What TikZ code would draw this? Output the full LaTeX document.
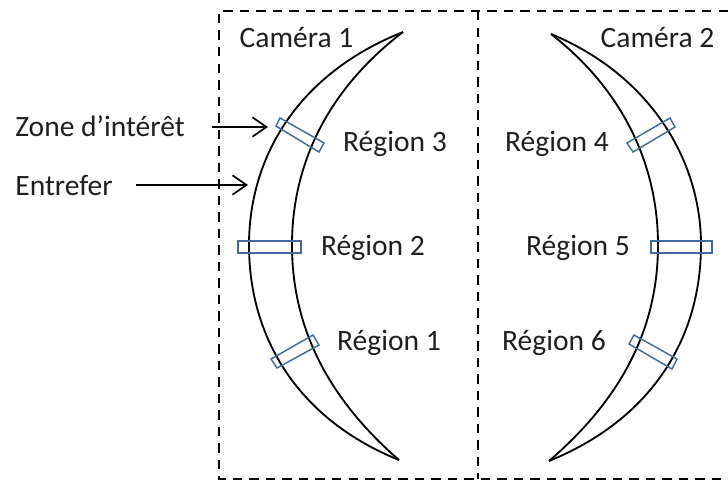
\documentclass[tikz,border=0pt]{standalone}
\usepackage{fontspec}
\setmainfont{Carlito}
\usetikzlibrary{arrows.meta}
\definecolor{regionblue}{RGB}{65,108,160}
\tikzset{
    label text/.style={font=\fontsize{16.8}{18}\selectfont,text=black!88,inner sep=0pt,anchor=base},
    region box/.style={draw=regionblue,line width=0.85pt},
    frame line/.style={line width=1pt,dash pattern=on 5.4pt off 4pt},
    gap line/.style={line width=1.05pt},
    pointer/.style={line width=0.95pt,-{Straight Barb[length=8pt,width=11pt]}}
}

\begin{document}
\begin{tikzpicture}[x=0.02cm,y=-0.02cm]
        \useasboundingbox (0,0) rectangle (728,481);

        % Frames
        \draw [frame line] (728,11) -- (219,11) -- (219,479) -- (728,479);
        \draw [frame line] (478,11) -- (478,479);

        % Air gap, left
        \draw [gap line] (403,32) .. controls (295,75) and (249,160) .. (249,245)
            .. controls (249,340) and (300,420) .. (399,460);
        \draw [gap line] (403,32) .. controls (327,90) and (292,165) .. (292,245)
            .. controls (292,330) and (330,400) .. (399,460);

        % Air gap, right
        \draw [gap line] (551,34) .. controls (650,75) and (701,160) .. (701,245)
            .. controls (701,340) and (650,420) .. (549,461);
        \draw [gap line] (551,34) .. controls (623,90) and (658,165) .. (658,245)
            .. controls (658,330) and (620,400) .. (549,461);

        % Regions
        \draw [region box] (238,241) rectangle (301,253);
        \draw [region box] (651,241) rectangle (712,253);
        \draw [region box] (280,118) -- (276,126) -- (319,152) -- (324,143) -- cycle;
        \draw [region box] (313,335) -- (319,345) -- (277,368) -- (271,359) -- cycle;
        \draw [region box] (670,118) -- (675,127) -- (633,152) -- (627,143) -- cycle;
        \draw [region box] (634,335) -- (629,344) -- (672,369) -- (677,359) -- cycle;

        % Labels
        \node [label text] (cam1) at (296.5,47) {Caméra 1};
        \node [label text] (cam2) at (657.5,47) {Caméra 2};
        \node [label text] (reg3) at (395,151) {Région 3};
        \node [label text] (reg2) at (373,255) {Région 2};
        \node [label text] (reg1) at (389,350) {Région 1};
        \node [label text] (reg4) at (557,151) {Région 4};
        \node [label text] (reg5) at (578,255) {Région 5};
        \node [label text] (reg6) at (554,350) {Région 6};
        \node [label text] (zone) at (100,136) {Zone d’intérêt};
        \node [label text] (gap)  at (64,195) {Entrefer};

        % Pointers
        \coordinate (zonetip) at (268,127);
        \coordinate (gaptip)  at (248,185);
        \draw [pointer,shorten <=15.3pt] (zone.east |- zonetip) -- (zonetip);
        \draw [pointer,shorten <=13pt] (gap.east |- gaptip) -- (gaptip);
    \end{tikzpicture}
\end{document}
